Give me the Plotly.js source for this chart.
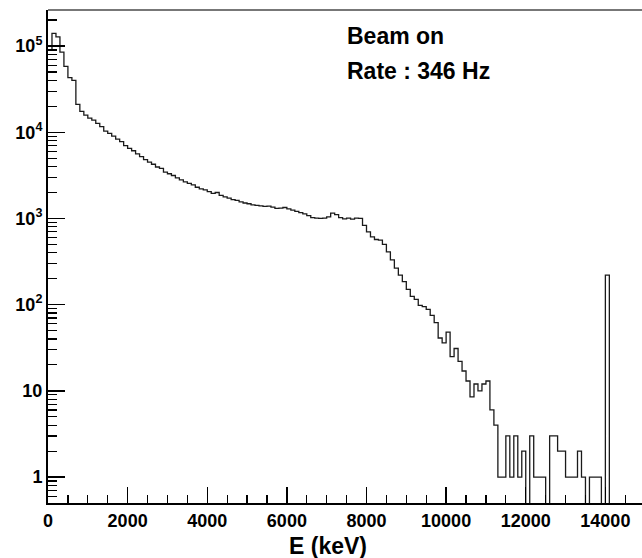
<!DOCTYPE html>
<html>
<head>
<meta charset="utf-8">
<script src="https://cdn.plot.ly/plotly-3.0.1.min.js"></script>
<style>
  html, body { margin: 0; padding: 0; background: #fff; }
  #chart { width: 642px; height: 558px; }
</style>
</head>
<body>
<div id="chart"></div>
<script>
// Histogram: 100 keV bins starting at 0 keV
const binStart = 0;
const binWidth = 100;
const counts = [
  90000, 140000, 128000, 85000, 58000, 43000, 40000, 21000, 17500, 15800,
  14600, 13800, 12700, 11600, 10300, 9700, 9000, 8300, 7800, 7000,
  6500, 6100, 5600, 5200, 4800, 4500, 4250, 3950, 3800, 3450,
  3300, 3150, 2950, 2800, 2650, 2550, 2450, 2300, 2200, 2150,
  2050, 1950, 2000, 1850, 1780, 1720, 1650, 1620, 1560, 1510,
  1480, 1440, 1420, 1400, 1380, 1390, 1350, 1310, 1320, 1340,
  1290, 1250, 1210, 1170, 1130, 1080, 1020, 1010, 1000, 1010,
  1040, 1150, 1110, 1020, 990, 1010, 980, 1010, 1000, 830,
  700, 610, 570, 560, 500, 410, 330, 265, 220, 185,
  150, 125, 115, 98, 95, 88, 75, 62, 41, 36,
  48, 25, 31, 22, 17, 13, 8.5, 12, 10, 12,
  13, 6, 4, 1, 1, 3, 1, 3, 1, 2,
  0, 3, 1, 1, 1, 0, 3, 3, 2, 2,
  1, 1, 1, 2, 1, 0, 1, 1, 1, 0,
  220, 0, 0, 0, 0, 0, 0, 0, 0, 0
];
const xTickVals = [0, 2000, 4000, 6000, 8000, 10000, 12000, 14000];
const xTickText = ['0', '2000', '4000', '6000', '8000', '10000', '12000', '14000'];
const yTickVals = [1, 10, 100, 1000, 10000, 100000];
const yTickText = ['1', '10', '10<sup>2</sup>', '10<sup>3</sup>', '10<sup>4</sup>', '10<sup>5</sup>'];
const xTitle = 'E (keV)';
const label1 = 'Beam on';
const label2 = 'Rate : 346 Hz';

// bin edges, step drawn with 'hv'
const edges = counts.map((_, i) => binStart + i * binWidth);
edges.push(binStart + counts.length * binWidth);
const yDraw = counts.map(v => (v > 0 ? v : 0.2));
yDraw.push(yDraw[yDraw.length - 1]);

// minor log ticks 2..9 per decade
const yMinor = [];
for (let e = -1; e <= 5; e++) {
  for (let k = 2; k <= 9; k++) yMinor.push(k * Math.pow(10, e));
}

const tickFont = { family: '"Liberation Sans", Arial, sans-serif', size: 18, color: '#000', weight: 'bold' };
const textFont = { family: '"Liberation Sans", Arial, sans-serif', size: 23, color: '#000', weight: 'bold' };

const trace = {
  type: 'scatter',
  mode: 'lines',
  x: edges,
  y: yDraw,
  line: { shape: 'hv', color: '#1a1a1a', width: 1.3 },
  hoverinfo: 'skip'
};

const layout = {
  width: 642,
  height: 558,
  margin: { l: 48, r: 0, t: 10, b: 55 },
  paper_bgcolor: '#fff',
  plot_bgcolor: '#fff',
  showlegend: false,
  xaxis: {
    range: [0, 14920],
    showgrid: false,
    zeroline: false,
    showline: true,
    linecolor: '#000',
    linewidth: 2,
    mirror: false,
    ticks: 'inside',
    ticklen: 16,
    tickwidth: 1.3,
    tickcolor: '#000',
    tickmode: 'array',
    tickvals: xTickVals,
    ticktext: xTickText,
    tickfont: tickFont,
    minor: { ticks: 'inside', ticklen: 8, tickwidth: 1.2, tickcolor: '#000', dtick: 500, tick0: 0, showgrid: false }
  },
  yaxis: {
    type: 'log',
    range: [Math.log10(0.5), 5.418],
    showgrid: false,
    zeroline: false,
    showline: true,
    linecolor: '#000',
    linewidth: 2,
    ticks: 'inside',
    ticklen: 17,
    tickwidth: 1.3,
    tickcolor: '#000',
    tickmode: 'array',
    tickvals: yTickVals,
    ticktext: yTickText,
    tickfont: tickFont,
    minor: { ticks: 'inside', ticklen: 9, tickwidth: 1.2, tickcolor: '#000', tickmode: 'array', tickvals: yMinor, showgrid: false }
  },
  shapes: [
    { type: 'line', xref: 'paper', yref: 'paper', x0: 0, x1: 1, y0: 1, y1: 1, line: { color: '#777', width: 2 } }
  ],
  annotations: [
    { text: label1, xref: 'paper', yref: 'paper', x: 0.5, y: 0.947, xanchor: 'left', yanchor: 'middle', showarrow: false, font: textFont },
    { text: label2, xref: 'paper', yref: 'paper', x: 0.5, y: 0.876, xanchor: 'left', yanchor: 'middle', showarrow: false, font: textFont },
    { text: xTitle, xref: 'paper', yref: 'paper', x: 0.471, y: -0.087, xanchor: 'center', yanchor: 'middle', showarrow: false, font: textFont }
  ]
};

Plotly.newPlot('chart', [trace], layout, { displayModeBar: false, staticPlot: true });
</script>
</body>
</html>
